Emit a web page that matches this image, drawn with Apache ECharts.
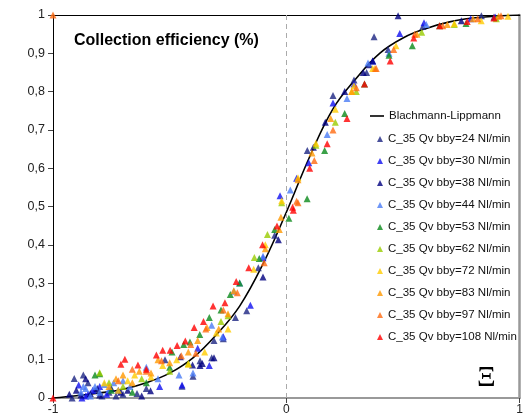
<!DOCTYPE html>
<html>
<head>
<meta charset="utf-8">
<script src="https://cdn.jsdelivr.net/npm/echarts@6/dist/echarts.min.js"></script>
<style>
html,body{margin:0;padding:0;background:#fff;}
#chart{width:526px;height:417px;}
</style>
</head>
<body>
<div id="chart"></div>
<script>
// Blachmann-Lippmann curve
const curveX = [-1,-0.9,-0.8,-0.7,-0.6,-0.5,-0.4,-0.3,-0.2,-0.1,0,0.1,0.2,0.3,0.4,0.5,0.6,0.7,0.8,0.9,1];
const curveY = [0,0.006,0.013,0.023,0.04,0.065,0.105,0.165,0.24,0.35,0.485,0.63,0.755,0.835,0.9,0.94,0.965,0.982,0.992,0.997,1];

const seriesNames = [
  'C_35 Qv bby=24 Nl/min','C_35 Qv bby=30 Nl/min','C_35 Qv bby=38 Nl/min','C_35 Qv bby=44 Nl/min',
  'C_35 Qv bby=53 Nl/min','C_35 Qv bby=62 Nl/min','C_35 Qv bby=72 Nl/min','C_35 Qv bby=83 Nl/min',
  'C_35 Qv bby=97 Nl/min','C_35 Qv bby=108 Nl/min'
];
const curveName = 'Blachmann-Lippmann';

const s24 = [[-0.918,0.0],[-0.909,0.051],[-0.87,0.06],[-0.85,0.04],[-0.82,0.02],[-0.79,0.005],[-0.76,0.015],[-0.73,0.005],[-0.7,0.01],[-0.64,0.012],[-0.6,0.025],[-0.52,0.1],[-0.447,0.031],[-0.4,0.057],[-0.37,0.097],[-0.32,0.105],[-0.31,0.15],[-0.27,0.155],[-0.218,0.21],[-0.17,0.228],[-0.12,0.34],[-0.05,0.425],[0.09,0.646],[0.2,0.79],[0.29,0.83],[0.344,0.85],[0.376,0.943],[0.436,0.91],[0.585,0.97],[0.836,0.998],[0.89,0.995]];
const s30 = [[-0.876,0.0],[-0.89,0.034],[-0.86,0.005],[-0.85,0.01],[-0.83,0.02],[-0.8,0.03],[-0.77,0.01],[-0.72,0.02],[-0.543,0.03],[-0.447,0.034],[-0.38,0.13],[-0.33,0.085],[-0.27,0.16],[-0.154,0.242],[-0.1,0.366],[-0.027,0.528],[0.044,0.574],[0.096,0.614],[0.2,0.77],[0.29,0.82],[0.37,0.88],[0.486,0.952],[0.59,0.98],[0.79,0.99],[0.895,0.995]];
const s38 = [[-0.93,0.01],[-0.9,0.02],[-0.88,0.008],[-0.86,0.05],[-0.84,0.012],[-0.81,0.025],[-0.8,0.008],[-0.75,0.025],[-0.71,0.015],[-0.68,0.02],[-0.62,0.005],[-0.582,0.019],[-0.454,0.108],[-0.402,0.086],[-0.37,0.085],[-0.36,0.09],[-0.31,0.105],[-0.1,0.316],[-0.034,0.413],[0.116,0.655],[0.167,0.72],[0.25,0.8],[0.33,0.85],[0.355,0.87],[0.37,0.88],[0.479,0.998],[0.75,0.985]];
const s44 = [[-0.88,0.015],[-0.87,0.03],[-0.86,0.025],[-0.84,0.005],[-0.82,0.03],[-0.8,0.015],[-0.78,0.035],[-0.76,0.022],[-0.74,0.04],[-0.7,0.045],[-0.67,0.03],[-0.6,0.08],[-0.55,0.05],[-0.46,0.06],[-0.4,0.065],[-0.32,0.19],[-0.274,0.159],[-0.225,0.279],[-0.2,0.3],[-0.1,0.37],[0.017,0.543],[0.175,0.688],[0.26,0.782],[0.35,0.875],[0.44,0.9],[0.6,0.975]];
const s53 = [[-0.82,0.06],[-0.8,0.063],[-0.75,0.02],[-0.66,0.015],[-0.6,0.04],[-0.5,0.08],[-0.49,0.12],[-0.44,0.14],[-0.413,0.146],[-0.371,0.166],[-0.33,0.21],[-0.28,0.23],[-0.24,0.27],[-0.2,0.3],[-0.116,0.364],[-0.05,0.44],[0.011,0.469],[0.089,0.52],[0.164,0.646],[0.25,0.743],[0.335,0.82],[0.44,0.895],[0.54,0.92],[0.657,0.972],[0.77,0.978]];
const s62 = [[-0.8,0.066],[-0.76,0.04],[-0.7,0.03],[-0.62,0.05],[-0.5,0.07],[-0.42,0.09],[-0.28,0.2],[-0.25,0.215],[-0.137,0.367],[-0.081,0.427],[-0.02,0.51],[0.127,0.66],[0.21,0.72],[0.3,0.8],[0.58,0.955],[0.72,0.975],[0.9,0.99]];
const s72 = [[-0.78,0.04],[-0.72,0.02],[-0.68,0.045],[-0.65,0.06],[-0.58,0.055],[-0.53,0.085],[-0.47,0.1],[-0.42,0.088],[-0.35,0.12],[-0.3,0.17],[-0.25,0.18],[-0.14,0.336],[-0.09,0.4],[-0.02,0.515],[0.05,0.575],[0.127,0.665],[0.21,0.754],[0.28,0.8],[0.29,0.815],[0.37,0.86],[0.47,0.92],[0.72,0.978],[0.835,0.985],[0.95,0.997]];
const s83 = [[-0.76,0.03],[-0.73,0.05],[-0.7,0.06],[-0.66,0.04],[-0.63,0.07],[-0.58,0.065],[-0.55,0.1],[-0.5,0.092],[-0.42,0.12],[-0.38,0.15],[-0.34,0.184],[-0.29,0.18],[-0.25,0.22],[-0.225,0.28],[-0.09,0.39],[-0.03,0.44],[-0.023,0.472],[0.05,0.57],[0.11,0.64],[0.19,0.73],[0.28,0.8],[0.38,0.86],[0.56,0.95],[0.69,0.975],[0.8,0.99],[0.91,0.997]];
const s97 = [[-1.0,1.0],[-0.72,0.045],[-0.66,0.075],[-0.6,0.07],[-0.535,0.097],[-0.45,0.11],[-0.41,0.14],[-0.388,0.117],[-0.345,0.18],[-0.27,0.23],[-0.21,0.275],[-0.095,0.353],[0.044,0.514],[0.05,0.51],[0.12,0.62],[0.2,0.7],[0.3,0.81],[0.385,0.86],[0.46,0.91],[0.55,0.95],[0.67,0.972],[0.82,0.99],[0.92,0.998]];
const s108 = [[-1.0,0.0],[-0.709,0.088],[-0.692,0.101],[-0.636,0.086],[-0.6,0.075],[-0.557,0.112],[-0.53,0.125],[-0.498,0.125],[-0.468,0.137],[-0.433,0.149],[-0.395,0.184],[-0.355,0.2],[-0.314,0.24],[-0.263,0.249],[-0.215,0.304],[-0.161,0.34],[-0.102,0.4],[-0.04,0.449],[0.027,0.498],[0.03,0.49],[0.1,0.6],[0.175,0.664],[0.26,0.73],[0.335,0.82],[0.445,0.88],[0.546,0.94],[0.657,0.972],[0.775,0.983],[0.89,0.992]];

const seriesData = [s24,s30,s38,s44,s53,s62,s72,s83,s97,s108];
const colors = ['#1c2482','#1010f0','#000080','#4a7cf5','#0a8a1a','#99cc00','#ffcc00','#ff9900','#ff6a10','#ff0000'];

const xTicks = {min:-1, max:1, interval:1};
const yTicks = {min:0, max:1, interval:0.1};

const chart = echarts.init(document.getElementById('chart'), null, {renderer:'canvas'});
const FONT = '"Liberation Sans", Arial, sans-serif';

const series = [{
  name: curveName,
  type: 'line',
  data: curveX.map((x,i)=>[x,curveY[i]]),
  smooth: 0.4,
  symbol: 'none',
  lineStyle: {color:'#000', width:1.6},
  itemStyle: {color:'#000'},
  z: 2,
  markLine: {
    silent: true, symbol: 'none', label:{show:false},
    lineStyle: {color:'#aaa', type:[5,4], width:1},
    data: [{xAxis: 0}]
  }
}];
seriesData.forEach((d,i)=>{
  series.push({
    name: seriesNames[i],
    type: 'scatter',
    data: d,
    symbol: 'triangle',
    symbolSize: 7,
    clip: false,
    itemStyle: {color: colors[i]},
    z: 3
  });
});

chart.setOption({
  animation: false,
  textStyle: {fontFamily: FONT},
  grid: {left:53, right:3, top:15, bottom:19, containLabel:false},
  title: [
    {text:'Collection efficiency (%)', left:69, top:28,
     textStyle:{fontFamily:FONT, fontSize:16, fontWeight:'bold', color:'#000'}},
    {text:'\u039E', left:477, top:364, padding:0,
     textStyle:{fontFamily:'"Liberation Serif", "DejaVu Serif", serif', fontSize:29, fontWeight:'normal', color:'#000'}}
  ],
  legend: [
    {data:[{name:curveName, icon:'rect', itemStyle:{color:'#000'}}], orient:'vertical', left:370, top:109, padding:0,
     itemWidth:14, itemHeight:1.6,
     textStyle:{fontFamily:FONT, fontSize:11.5, color:'#111', lineHeight:14}},
    {data:seriesNames, orient:'vertical', left:377, top:132, padding:0, itemWidth:6, itemHeight:6, itemGap:8,
     textStyle:{fontFamily:FONT, fontSize:11.5, color:'#111', lineHeight:14}}
  ],
  xAxis: [{
    type:'value', min:xTicks.min, max:xTicks.max, interval:xTicks.interval, position:'bottom',
    axisLine:{show:true, onZero:false, lineStyle:{color:'#999', width:2}},
    axisTick:{show:true, length:5, lineStyle:{color:'#444'}},
    axisLabel:{fontFamily:FONT, fontSize:12, color:'#222', margin:6},
    splitLine:{show:false}
  },{
    type:'value', min:xTicks.min, max:xTicks.max, position:'top',
    axisLine:{show:true, onZero:false, lineStyle:{color:'#000', width:1.2}},
    axisTick:{show:false}, axisLabel:{show:false}, splitLine:{show:false}
  }],
  yAxis: [{
    type:'value', min:yTicks.min, max:yTicks.max, interval:yTicks.interval, position:'left',
    axisLine:{show:true, onZero:false, lineStyle:{color:'#000', width:1}},
    axisTick:{show:true, length:5, lineStyle:{color:'#444'}},
    axisLabel:{fontFamily:FONT, fontSize:12.5, color:'#222', margin:8,
      formatter: v => (Math.round(v*10)/10).toString().replace('.', ',')},
    splitLine:{show:false}
  },{
    type:'value', min:yTicks.min, max:yTicks.max, position:'right',
    axisLine:{show:true, onZero:false, lineStyle:{color:'#999', width:2.5}},
    axisTick:{show:false}, axisLabel:{show:false}, splitLine:{show:false}
  }],
  series: series
});
</script>
</body>
</html>
